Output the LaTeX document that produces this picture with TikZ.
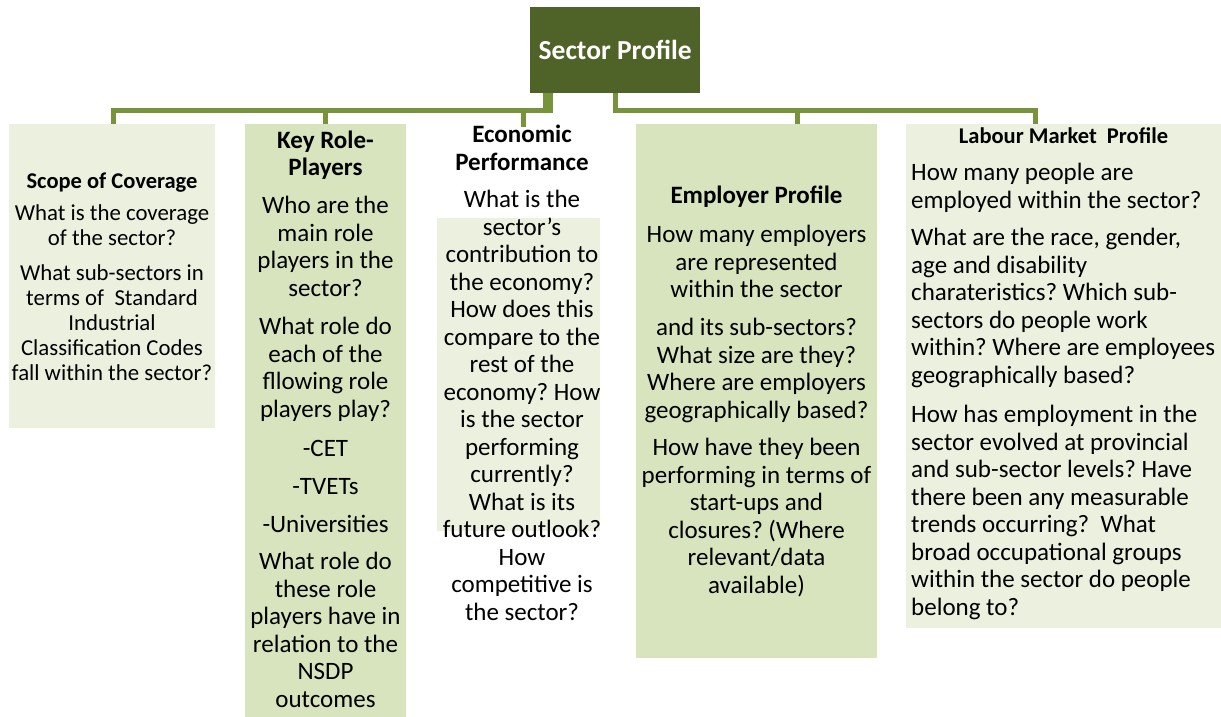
\documentclass[tikz,border=0pt]{standalone}
\usepackage{fontspec}
\setmainfont{Carlito}
\frenchspacing
\definecolor{darkolive}{HTML}{4F6228}
\definecolor{connolive}{HTML}{77933C}
\definecolor{palegreen}{HTML}{EBF1DE}
\definecolor{midgreen}{HTML}{D7E4BD}
% text blocks: first-line baseline is the box baseline
\newcommand\cblock[1]{\parbox[t]{330pt}{\centering #1}}
\newcommand\lblock[1]{\parbox[t]{330pt}{\raggedright #1}}
\newcommand\bodyfont{\fontsize{25}{27.5}\selectfont}
\newcommand\smallbody{\fontsize{22.8}{25}\selectfont}
\newcommand\headfont{\bfseries\fontsize{25}{27.7}\selectfont}
\newcommand\smallhead{\bfseries\fontsize{22.5}{25}\selectfont}
\begin{document}
\begin{tikzpicture}[x=1pt,y=-1pt,
  panel/.style={draw=none, inner sep=0pt, anchor=north west},
  txt/.style={inner sep=0pt, anchor=base},
  ltxt/.style={inner sep=0pt, anchor=base west},
  conn/.style={draw=connolive, line width=5pt}]
\useasboundingbox (0,0) rectangle (1221,717);

% panels
\node[panel, fill=darkolive, minimum width=170pt, minimum height=86pt,
      text=white, font=\bfseries\fontsize{27.5}{30}\selectfont] (sector) at (530,7) {Sector Profile};
\node[panel, fill=palegreen, minimum width=206pt, minimum height=304pt] (scope) at (9,124) {};
\node[panel, fill=midgreen, minimum width=161pt, minimum height=593pt] (key) at (245,124) {};
\node[panel, fill=palegreen, minimum width=163pt, minimum height=313pt] (econbox) at (437,218) {};
\node[panel, fill=midgreen, minimum width=241pt, minimum height=534pt] (employer) at (636,124) {};
\node[panel, fill=palegreen, minimum width=315pt, minimum height=504pt] (labour) at (906,124) {};

% Scope of Coverage
\node[txt] (scopeT) at (112,188) {\cblock{\smallhead Scope of Coverage}};
\node[txt] (scopeA) at (112,220) {\cblock{\smallbody What is the coverage\\of the sector?}};
\node[txt] (scopeB) at (112,280) {\cblock{\smallbody What sub-sectors in\\terms of \ Standard\\Industrial\\Classification Codes\\fall within the sector?}};

% Key Role-Players
\node[txt] (keyT) at (325.5,148) {\cblock{\headfont Key Role-\\Players}};
\node[txt] (keyA) at (325.5,213.5) {\cblock{\bodyfont Who are the\\main role\\players in the\\sector?}};
\node[txt] (keyB) at (325.5,334.5) {\cblock{\bodyfont What role do\\each of the\\fllowing role\\players play?}};
\node[txt] (keyC) at (325.5,456) {\cblock{\bodyfont -CET}};
\node[txt] (keyD) at (325.5,494) {\cblock{\bodyfont -TVETs}};
\node[txt] (keyE) at (325.5,532) {\cblock{\bodyfont -Universities}};
\node[txt] (keyF) at (325.5,569.5) {\cblock{\bodyfont What role do\\these role\\players have in\\relation to the\\NSDP\\outcomes}};

% Economic Performance
\node[txt] (econT) at (522,142.5) {\cblock{\headfont Economic\\Performance}};
\node[txt] (econA) at (522,207.5) {\cblock{\bodyfont What is the\\sector’s\\contribution to\\the economy?\\How does this\\compare to the\\rest of the\\economy? How\\is the sector\\performing\\currently?\\What is its\\future outlook?\\How\\competitive is\\the sector?}};

% Employer Profile
\node[txt] (empT) at (756.5,203.5) {\cblock{\headfont Employer Profile}};
\node[txt] (empA) at (756.5,242.5) {\cblock{\bodyfont How many employers\\are represented\\within the sector}};
\node[txt] (empB) at (756.5,335.5) {\cblock{\bodyfont and its sub-sectors?\\What size are they?\\Where are employers\\geographically based?}};
\node[txt] (empC) at (756.5,455.5) {\cblock{\bodyfont How have they been\\performing in terms of\\start-ups and\\closures? (Where\\relevant/data\\available)}};

% Labour Market Profile
\node[txt] (labT) at (1063.5,143) {\cblock{\smallhead Labour Market \ Profile}};
\node[ltxt] (labA) at (911,180.5) {\lblock{\bodyfont How many people are\\employed within the sector?}};
\node[ltxt] (labB) at (911,245.5) {\lblock{\bodyfont What are the race, gender,\\age and disability\\charateristics? Which sub-\\sectors do people work\\within? Where are employees\\geographically based?}};
\node[ltxt] (labC) at (911,422.5) {\lblock{\bodyfont How has employment in the\\sector evolved at provincial\\and sub-sector levels? Have\\there been any measurable\\trends occurring? \ What\\broad occupational groups\\within the sector do people\\belong to?}};

% connectors
\coordinate (bus) at (0,110);
\coordinate (sLa) at ([xshift=15.5pt]sector.south west);
\coordinate (sLb) at ([xshift=20.5pt]sector.south west);
\coordinate (sR) at ([xshift=85pt]sector.south west);
\coordinate (econTop) at (523,127);
\draw[conn] (sLa) -- (sLa |- bus) -| ([xshift=1pt]scope.north);
\draw[conn] (sLb) -- (sLb |- bus) -| (key.north);
\draw[conn] (sLb) -- (sLb |- bus) -| (econTop);
\draw[conn] (sR) -- (sR |- bus) -| ([xshift=161pt]employer.north west);
\draw[conn] (sR) -- (sR |- bus) -| ([xshift=129pt]labour.north west);
\end{tikzpicture}
\end{document}
